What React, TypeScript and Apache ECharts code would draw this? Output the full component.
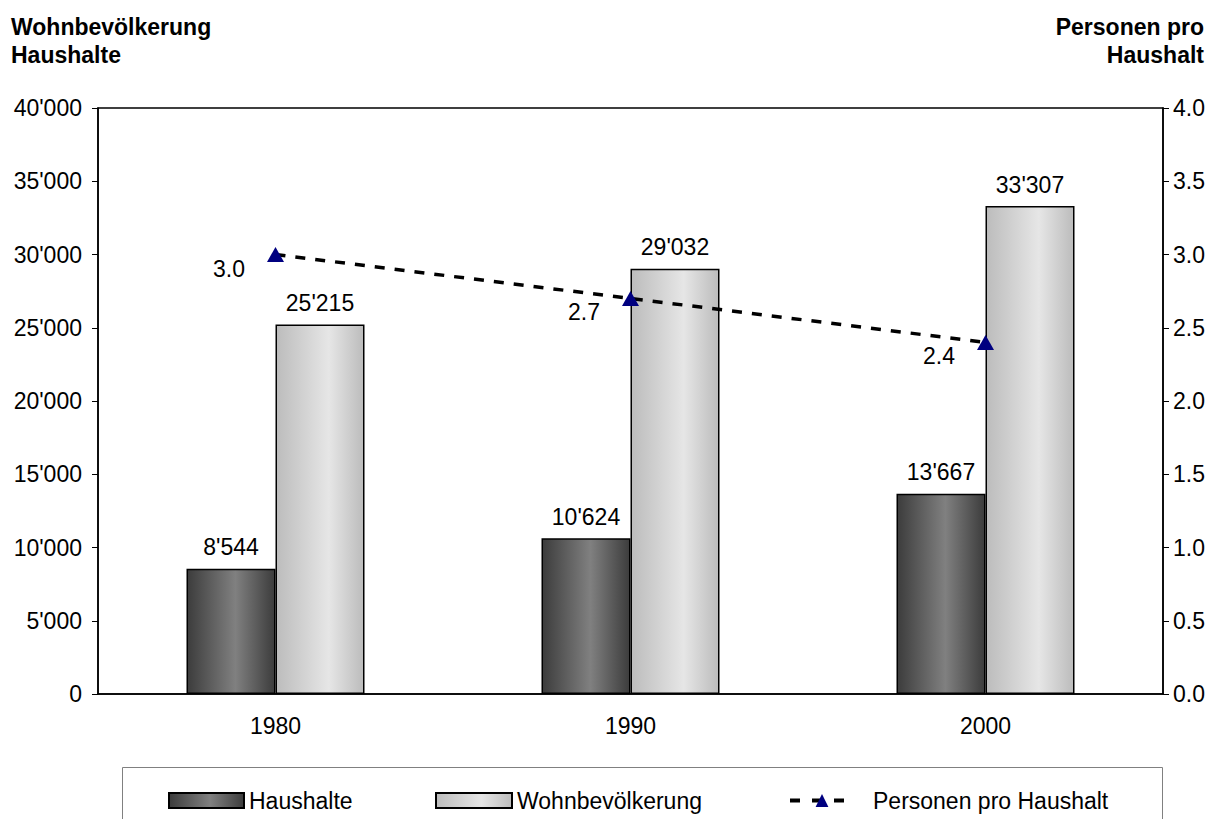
import React, { useEffect, useRef } from "react";
import * as echarts from "echarts";

const years = ["1980", "1990", "2000"];
const haushalte = [8544, 10624, 13667];
const wohnbevoelkerung = [25215, 29032, 33307];
const personenProHaushalt = [3.0, 2.7, 2.4];

const FONT = "'Liberation Sans', Arial, sans-serif";
const FS = 23;

const fmtThousands = (v: number) =>
  String(Math.round(v)).replace(/\B(?=(\d{3})+(?!\d))/g, "'");

export default function App() {
  const ref = useRef<HTMLDivElement>(null);
  useEffect(() => {
    if (!ref.current) return;
    const chart = echarts.init(ref.current, null, { renderer: "svg" });
    const darkGrad = new echarts.graphic.LinearGradient(0, 0, 1, 0, [
      { offset: 0, color: "#3c3c3c" },
      { offset: 0.55, color: "#808080" },
      { offset: 1, color: "#3c3c3c" },
    ]);
    const lightGrad = new echarts.graphic.LinearGradient(0, 0, 1, 0, [
      { offset: 0, color: "#bcbcbc" },
      { offset: 0.6, color: "#e6e6e6" },
      { offset: 1, color: "#bcbcbc" },
    ]);
    const legendText = { fontFamily: FONT, fontSize: FS, color: "#000" };
    const titleFont = `bold ${FS}px ${FONT}`;
    chart.setOption({
      animation: false,
      textStyle: { fontFamily: FONT },
      grid: {
        left: 98,
        right: 51,
        top: 108,
        bottom: 133,
        show: true,
        borderColor: "#000",
        borderWidth: 1.5,
      },
      legend: [
        {
          data: [{ name: "Haushalte", icon: "rect" }],
          left: 168,
          top: 789,
          padding: 0,
          itemWidth: 75,
          itemHeight: 15,
          textStyle: legendText,
        },
        {
          data: [{ name: "Wohnbevölkerung", icon: "rect" }],
          left: 435,
          top: 789,
          padding: 0,
          itemWidth: 76,
          itemHeight: 15,
          textStyle: legendText,
        },
        {
          data: [
            {
              name: "Personen pro Haushalt",
              lineStyle: { width: 4, type: [10, 12], color: "#000" },
            },
          ],
          left: 788,
          top: 789,
          padding: 0,
          itemWidth: 64,
          itemHeight: 16,
          itemGap: 0,
          textStyle: { ...legendText, padding: [0, 0, 0, 14] },
        },
      ],
      graphic: [
        {
          type: "rect",
          shape: { x: 122.5, y: 767.5, width: 1040, height: 80 },
          style: { fill: "none", stroke: "#808080", lineWidth: 1 },
          silent: true,
        },
        {
          type: "text",
          x: 11,
          y: 27,
          style: { text: "Wohnbevölkerung", font: titleFont, fill: "#000", textVerticalAlign: "middle" },
        },
        {
          type: "text",
          x: 11,
          y: 55,
          style: { text: "Haushalte", font: titleFont, fill: "#000", textVerticalAlign: "middle" },
        },
        {
          type: "text",
          x: 1204,
          y: 27,
          style: {
            text: "Personen pro",
            font: titleFont,
            fill: "#000",
            textAlign: "right",
            textVerticalAlign: "middle",
          },
        },
        {
          type: "text",
          x: 1204,
          y: 55,
          style: {
            text: "Haushalt",
            font: titleFont,
            fill: "#000",
            textAlign: "right",
            textVerticalAlign: "middle",
          },
        },
      ],
      xAxis: {
        type: "category",
        data: years,
        boundaryGap: true,
        axisLine: { lineStyle: { color: "#000", width: 1.5 } },
        axisTick: { length: 10, lineStyle: { color: "#000" } },
        axisLabel: { fontSize: FS, color: "#000", margin: 20, fontFamily: FONT },
      },
      yAxis: [
        {
          type: "value",
          min: 0,
          max: 40000,
          interval: 5000,
          splitLine: { show: false },
          axisLine: { show: true, lineStyle: { color: "#000", width: 1.5 } },
          axisTick: { show: true, length: 6, lineStyle: { color: "#000" } },
          axisLabel: {
            fontSize: FS,
            color: "#000",
            margin: 16,
            fontFamily: FONT,
            formatter: (v: number) => fmtThousands(v),
          },
        },
        {
          type: "value",
          min: 0,
          max: 4,
          interval: 0.5,
          position: "right",
          splitLine: { show: false },
          axisLine: { show: true, lineStyle: { color: "#000", width: 1.5 } },
          axisTick: { show: true, length: 6, lineStyle: { color: "#000" } },
          axisLabel: {
            fontSize: FS,
            color: "#000",
            margin: 10,
            fontFamily: FONT,
            formatter: (v: number) => v.toFixed(1),
          },
        },
      ],
      series: [
        {
          name: "Haushalte",
          type: "bar",
          data: haushalte,
          barWidth: 89,
          barGap: "0%",
          itemStyle: { color: darkGrad, borderColor: "#000", borderWidth: 1.5 },
          label: {
            show: true,
            position: "top",
            distance: 10,
            fontSize: FS,
            color: "#000",
            fontFamily: FONT,
            formatter: (p: any) => fmtThousands(p.value),
          },
        },
        {
          name: "Wohnbevölkerung",
          type: "bar",
          data: wohnbevoelkerung,
          barWidth: 89,
          barGap: "0%",
          itemStyle: { color: lightGrad, borderColor: "#000", borderWidth: 1.5 },
          label: {
            show: true,
            position: "top",
            distance: 10,
            fontSize: FS,
            color: "#000",
            fontFamily: FONT,
            formatter: (p: any) => fmtThousands(p.value),
          },
        },
        {
          name: "Personen pro Haushalt",
          type: "line",
          yAxisIndex: 1,
          data: personenProHaushalt,
          symbol: "triangle",
          symbolSize: [17, 15],
          itemStyle: { color: "#000080" },
          lineStyle: { color: "#000", width: 3.5, type: [10, 10] },
          label: {
            show: true,
            position: "left",
            distance: 22,
            offset: [0, 14],
            fontSize: FS,
            color: "#000",
            fontFamily: FONT,
            formatter: (p: any) => Number(p.value).toFixed(1),
          },
          z: 5,
        },
      ],
    });
    return () => chart.dispose();
  }, []);
  return <div ref={ref} style={{ width: 1214, height: 827, margin: -8 }} />;
}
